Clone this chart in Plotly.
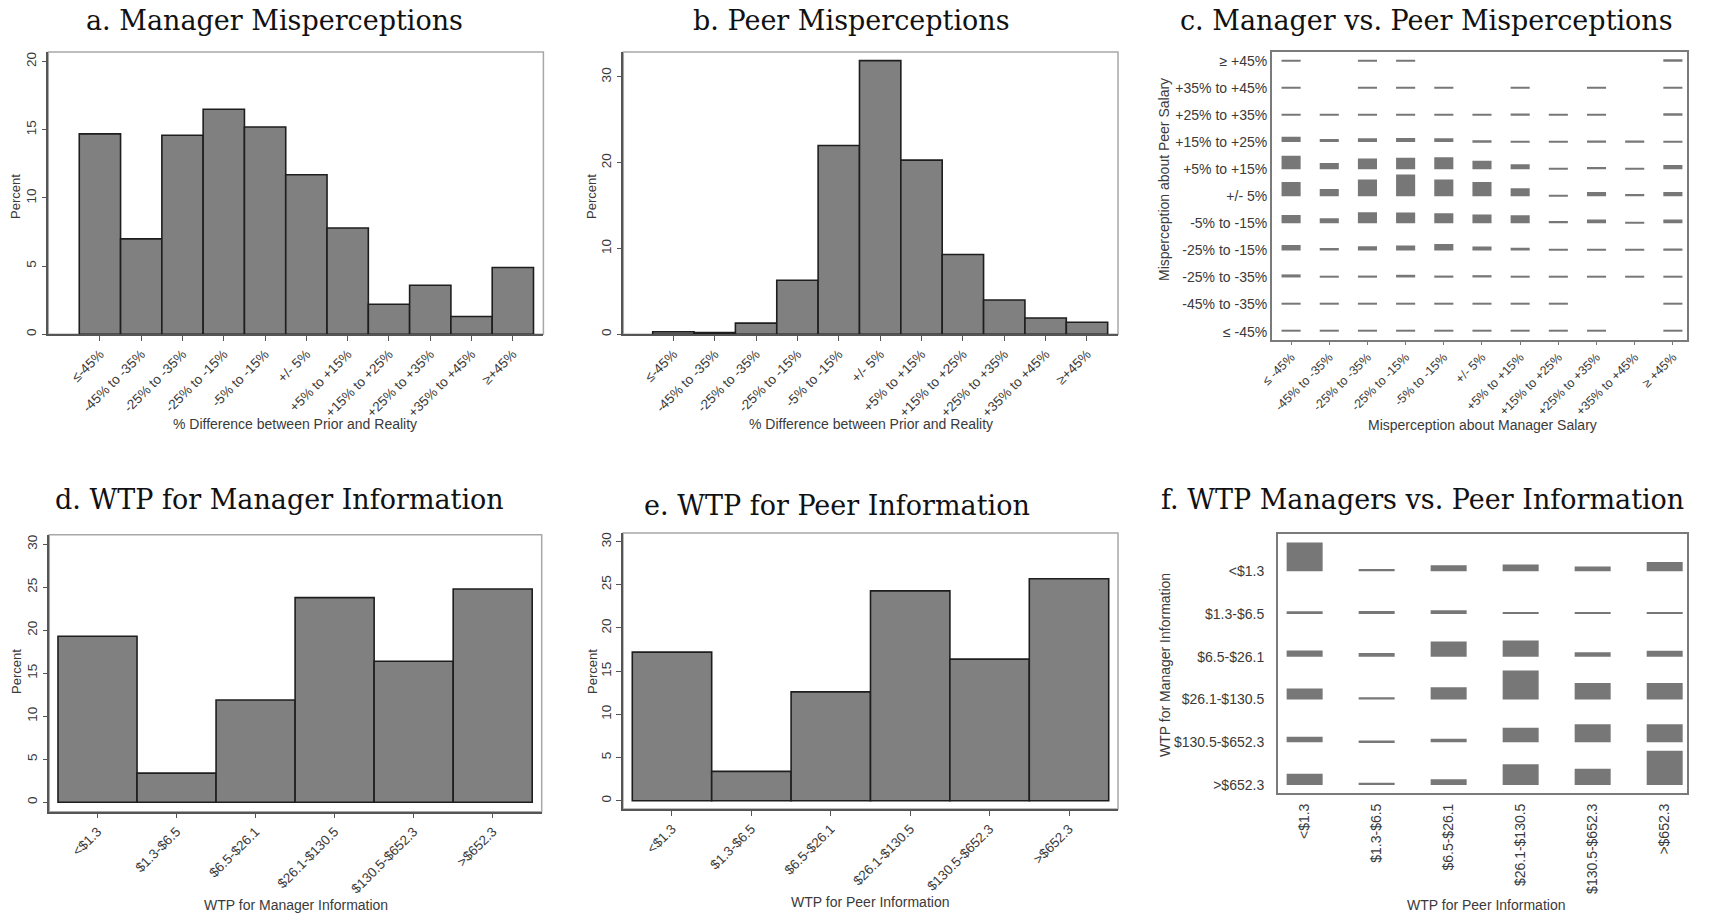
import plotly.graph_objects as go

W, H = 1709, 914

# ---------------- data ----------------
mis_labels = ["≤-45%", "-45% to -35%", "-25% to -35%", "-25% to -15%", "-5% to -15%", "+/- 5%",
              "+5% to +15%", "+15% to +25%", "+25% to +35%", "+35% to +45%", "≥+45%"]
manager_pct = [14.7, 7.0, 14.6, 16.5, 15.2, 11.7, 7.8, 2.2, 3.6, 1.3, 4.9]
peer_pct = [0.3, 0.2, 1.3, 6.3, 22.0, 31.9, 20.3, 9.3, 4.0, 1.9, 1.4]

c_labels = ["≤ -45%", "-45% to -35%", "-25% to -35%", "-25% to -15%", "-5% to -15%", "+/- 5%",
            "+5% to +15%", "+15% to +25%", "+25% to +35%", "+35% to +45%", "≥ +45%"]
# joint distribution (% of sample): rows = peer misperception (≤-45% ... ≥+45%),
# columns = manager misperception (≤-45% ... ≥+45%)
joint_mis = [
    [0.4, 0.35, 0.4, 0.35, 0.4, 0.35, 0.35, 0.25, 0.4, 0.0, 0.35],
    [0.35, 0.35, 0.25, 0.25, 0.4, 0.25, 0.35, 0.4, 0.0, 0.0, 0.35],
    [0.8, 0.35, 0.5, 0.7, 0.5, 0.6, 0.35, 0.4, 0.35, 0.35, 0.35],
    [1.4, 0.6, 1.1, 1.3, 1.7, 1.0, 0.7, 0.25, 0.35, 0.35, 0.5],
    [2.2, 1.3, 2.9, 2.8, 2.6, 2.3, 2.1, 0.6, 1.0, 0.35, 1.0],
    [3.7, 1.9, 4.4, 5.7, 4.4, 3.7, 2.1, 0.4, 1.1, 0.6, 1.1],
    [3.5, 1.6, 2.8, 3.0, 3.1, 2.2, 1.3, 0.4, 0.6, 0.35, 1.1],
    [1.4, 0.8, 1.0, 1.1, 1.0, 0.5, 0.3, 0.25, 0.4, 0.4, 0.25],
    [0.3, 0.25, 0.3, 0.3, 0.3, 0.3, 0.4, 0.3, 0.3, 0.0, 0.5],
    [0.3, 0.0, 0.3, 0.3, 0.3, 0.0, 0.3, 0.0, 0.3, 0.0, 0.3],
    [0.3, 0.0, 0.3, 0.3, 0.0, 0.0, 0.0, 0.0, 0.0, 0.0, 0.4],
]

wtp_labels = ["<$1.3", "$1.3-$6.5", "$6.5-$26.1", "$26.1-$130.5", "$130.5-$652.3", ">$652.3"]
wtp_manager = [19.3, 3.4, 11.9, 23.8, 16.4, 24.8]
wtp_peer = [17.2, 3.4, 12.6, 24.3, 16.4, 25.7]
# joint WTP (% of sample): rows = manager WTP category, columns = peer WTP category
joint_wtp = [
    [7.8, 0.6, 1.6, 1.8, 1.3, 2.5],
    [0.7, 0.8, 1.0, 0.45, 0.35, 0.3],
    [1.7, 1.0, 4.1, 4.4, 1.2, 1.6],
    [3.0, 0.6, 3.3, 7.9, 4.5, 4.5],
    [1.5, 0.45, 0.9, 3.9, 4.9, 4.9],
    [3.0, 0.55, 1.5, 5.6, 4.4, 9.3],
]

# ---------------- style ----------------
SANS = "Liberation Sans, Arial, sans-serif"
SERIF = "DejaVu Serif, serif"
TXT = "#3a3a3a"
BAR_FILL = "#808080"
BAR_EDGE = "#1e1e1e"
TAB_FILL = "#777777"
tickfont = dict(family=SANS, size=13.5, color=TXT)


def dx(l, r):
    return [l / W, r / W]


def dy(t, b):
    return [1 - b / H, 1 - t / H]


fig = go.Figure()

# histograms
hist_specs = [
    ("x", "y", manager_pct),
    ("x2", "y2", peer_pct),
    ("x4", "y4", wtp_manager),
    ("x5", "y5", wtp_peer),
]
for xa, ya, vals in hist_specs:
    fig.add_trace(go.Bar(
        x=list(range(len(vals))), y=vals, width=1.0,
        marker=dict(color=BAR_FILL, line=dict(color=BAR_EDGE, width=1.6)),
        xaxis=xa, yaxis=ya, showlegend=False, hoverinfo="y"))

# tab plot c
c_scale = 0.1416
for r, row in enumerate(joint_mis):
    xs = [c for c, v in enumerate(row) if v > 0]
    hs = [row[c] * c_scale for c in xs]
    fig.add_trace(go.Bar(
        x=xs, y=hs, base=[r] * len(xs), width=0.5,
        marker=dict(color=TAB_FILL, line=dict(width=0)),
        xaxis="x3", yaxis="y3", showlegend=False, hoverinfo="skip"))

# tab plot f
f_scale = 0.0859
nf = len(wtp_labels)
for r, row in enumerate(joint_wtp):
    xs = [c for c, v in enumerate(row) if v > 0]
    hs = [row[c] * f_scale for c in xs]
    fig.add_trace(go.Bar(
        x=xs, y=hs, base=[nf - 1 - r] * len(xs), width=0.5,
        marker=dict(color=TAB_FILL, line=dict(width=0)),
        xaxis="x6", yaxis="y6", showlegend=False, hoverinfo="skip"))


def hist_x(dom, rng, n, labels, anchor):
    return dict(domain=dom, range=rng, anchor=anchor, tickmode="array",
                tickvals=list(range(n)), ticktext=labels, tickangle=-45,
                ticks="outside", ticklen=5, tickwidth=1.2, tickcolor="#555",
                showline=True, linecolor="#555", linewidth=1.5, mirror=False,
                showgrid=False, zeroline=False, tickfont=tickfont, automargin=False,
                fixedrange=True)


def hist_y(dom, rng, tv, anchor):
    return dict(domain=dom, range=rng, anchor=anchor, tickmode="array",
                tickvals=tv, ticktext=[str(v) for v in tv], tickangle=-90,
                ticks="outside", ticklen=5, tickwidth=1.2, tickcolor="#555",
                showline=True, linecolor="#555", linewidth=1.5, mirror=False,
                showgrid=False, zeroline=False, tickfont=tickfont, automargin=False,
                fixedrange=True)


layout = dict(
    width=W, height=H, margin=dict(l=0, r=0, t=0, b=0),
    paper_bgcolor="white", plot_bgcolor="white", barmode="overlay",
    showlegend=False,
    xaxis=hist_x(dx(48.3, 543.4), [-1.25, 10.74], 11, mis_labels, "y"),
    yaxis=hist_y(dy(52, 334.3), [0, 20.7], [0, 5, 10, 15, 20], "x"),
    xaxis2=hist_x(dx(623.3, 1118), [-1.21, 10.75], 11, mis_labels, "y2"),
    yaxis2=hist_y(dy(52, 334.3), [0, 32.9], [0, 10, 20, 30], "x2"),
    xaxis4=hist_x(dx(49.3, 541.7), [-0.61, 5.62], 6, wtp_labels, "y4"),
    yaxis4=hist_y(dy(534.8, 811.7), [-1.09, 31.1], [0, 5, 10, 15, 20, 25, 30], "x4"),
    xaxis5=hist_x(dx(623, 1118), [-0.617, 5.617], 6, wtp_labels, "y5"),
    yaxis5=hist_y(dy(533, 809), [-0.96, 31.0], [0, 5, 10, 15, 20, 25, 30], "x5"),
    xaxis3=dict(domain=dx(1272, 1687), range=[-0.5, 10.37], anchor="y3",
                tickmode="array", tickvals=list(range(11)), ticktext=c_labels,
                tickangle=-45, ticks="outside", ticklen=3, tickcolor="#777",
                showline=True, linecolor="#7a7a7a", linewidth=2, mirror=True,
                showgrid=False, zeroline=False, tickfont=dict(family=SANS, size=12.5, color=TXT),
                automargin=False, fixedrange=True),
    yaxis3=dict(domain=dy(51.7, 340), range=[-0.31, 10.34], anchor="x3",
                tickmode="array", tickvals=list(range(11)), ticktext=c_labels,
                ticks="", showline=True, linecolor="#7a7a7a", linewidth=2, mirror=True,
                showgrid=False, zeroline=False, tickfont=dict(family=SANS, size=14, color=TXT),
                automargin=False, fixedrange=True),
    xaxis6=dict(domain=dx(1278, 1687), range=[-0.37, 5.31], anchor="y6",
                tickmode="array", tickvals=list(range(nf)), ticktext=wtp_labels,
                tickangle=-90, ticks="", ticklabelstandoff=3, showline=True,
                linecolor="#7a7a7a", linewidth=2,
                mirror=True, showgrid=False, zeroline=False,
                tickfont=dict(family=SANS, size=14, color=TXT), automargin=False,
                fixedrange=True),
    yaxis6=dict(domain=dy(534, 793), range=[-0.19, 5.87], anchor="x6",
                tickmode="array", tickvals=list(range(nf)),
                ticktext=list(reversed(wtp_labels)), ticks="", ticklabelstandoff=9,
                showline=True,
                linecolor="#7a7a7a", linewidth=2, mirror=True, showgrid=False,
                zeroline=False, tickfont=dict(family=SANS, size=14, color=TXT),
                automargin=False, fixedrange=True),
)

# light frame around histogram plot regions
shapes = []
for xa, ya in [("x", "y"), ("x2", "y2"), ("x4", "y4"), ("x5", "y5")]:
    shapes.append(dict(type="rect", xref=xa + " domain", yref=ya + " domain",
                       x0=0, x1=1, y0=0, y1=1, line=dict(color="#a8a8a8", width=1.5),
                       layer="below"))
layout["shapes"] = shapes

annotations = []
titles = [
    ("a. Manager Misperceptions", 274, 20),
    ("b. Peer Misperceptions", 851, 20),
    ("c. Manager vs. Peer Misperceptions", 1426, 20),
    ("d. WTP for Manager Information", 279, 500),
    ("e. WTP for Peer Information", 837, 505),
    ("f. WTP Managers vs. Peer Information", 1422, 500),
]
for t, cx, cy in titles:
    annotations.append(dict(text=t, xref="paper", yref="paper", x=cx / W, y=1 - cy / H,
                            xanchor="center", yanchor="middle", showarrow=False,
                            font=dict(family=SERIF, size=27, color="#111")))

axis_titles = [
    ("% Difference between Prior and Reality", 295, 424, 0, 14),
    ("Percent", 16, 197, -90, 13),
    ("% Difference between Prior and Reality", 871, 424, 0, 14),
    ("Percent", 592, 197, -90, 13),
    ("Misperception about Manager Salary", 1482, 425, 0, 14),
    ("Misperception about Peer Salary", 1164, 180, -90, 14),
    ("WTP for Manager Information", 296, 905, 0, 14),
    ("Percent", 16, 672, -90, 13),
    ("WTP for Peer Information", 870, 902, 0, 14),
    ("Percent", 592, 672, -90, 13),
    ("WTP for Peer Information", 1486, 905, 0, 14),
    ("WTP for Manager Information", 1165, 665, -90, 14),
]
for t, cx, cy, ang, sz in axis_titles:
    annotations.append(dict(text=t, xref="paper", yref="paper", x=cx / W, y=1 - cy / H,
                            xanchor="center", yanchor="middle", showarrow=False,
                            textangle=ang, font=dict(family=SANS, size=sz, color=TXT)))
layout["annotations"] = annotations

fig.update_layout(**layout)

fig.write_html("out.html", config={"displayModeBar": False},
               post_script="document.body.style.margin='0px';")
